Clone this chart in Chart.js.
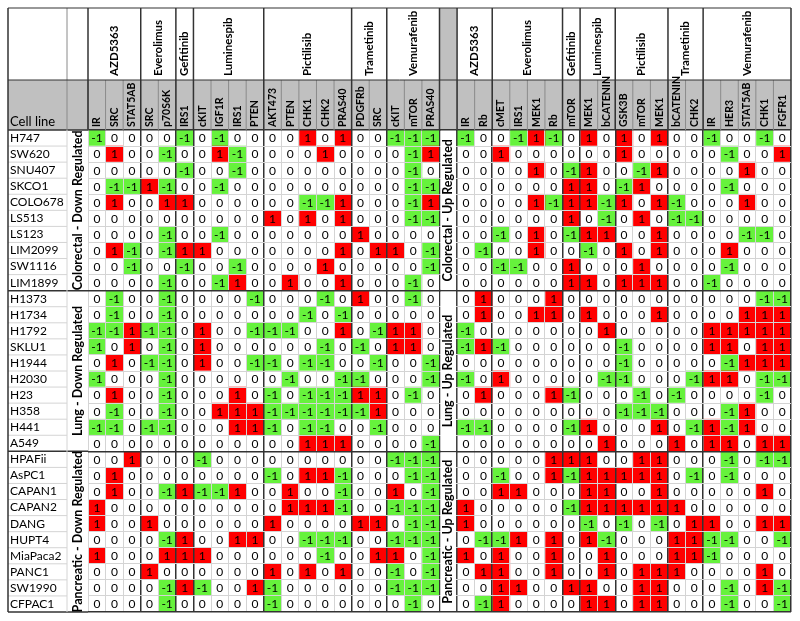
<!DOCTYPE html>
<html>
<head>
<meta charset="utf-8">
<script src="https://cdn.jsdelivr.net/npm/chart.js@4.4.0/dist/chart.umd.min.js"></script>
<style>
  body { margin: 0; background: #fff; }
  #wrap { width: 800px; height: 621px; }
</style>
</head>
<body>
<div id="wrap"><canvas id="myChart"></canvas></div>
<script>
// ---- data ---------------------------------------------------------------
const tissues = ['Colorectal', 'Lung', 'Pancreatic'];
const colorectalLines = ['H747','SW620','SNU407','SKCO1','COLO678','LS513','LS123','LIM2099','SW1116','LIM1899'];
const lungLines = ['H1373','H1734','H1792','SKLU1','H1944','H2030','H23','H358','H441','A549'];
const pancreaticLines = ['HPAFii','AsPC1','CAPAN1','CAPAN2','DANG','HUPT4','MiaPaca2','PANC1','SW1990','CFPAC1'];

const drugs = ['AZD5363','Everolimus','Gefitinib','Luminespib','Pictilisib','Trametinib','Vemurafenib'];
// down regulated markers per drug
const downGenes = [['IR','SRC','STAT5AB'],['SRC','p70S6K'],['IRS1'],['cKIT','IGF1R','IRS1','PTEN'],
                   ['AKT473','PTEN','CHK1','CHK2','PRAS40'],['PDGFRb','SRC'],['cKIT','mTOR','PRAS40']];
// up regulated markers per drug
const upGenes = [['IR','Rb'],['cMET','IRS1','MEK1','Rb'],['mTOR'],['MEK1','bCATENIN'],
                 ['GSK3B','mTOR','MEK1'],['bCATENIN','CHK2'],['IR','HER3','STAT5AB','CHK1','FGFR1']];

const colorectalDown = [
  [-1,0,0,0,0,-1,0,-1,0,0,0,0,1,0,1,0,0,-1,-1,-1],
  [0,1,0,0,-1,0,0,1,-1,0,0,0,0,1,0,0,0,0,-1,1],
  [0,0,0,0,0,-1,0,0,-1,0,0,0,0,0,0,0,0,0,-1,0],
  [0,-1,-1,1,-1,0,0,-1,0,0,0,0,0,0,0,0,0,0,-1,-1],
  [0,1,0,0,1,1,0,0,0,0,0,0,-1,-1,1,0,0,0,-1,1],
  [0,0,0,0,0,0,0,0,0,0,1,0,1,0,1,0,0,0,-1,-1],
  [0,0,0,0,-1,0,0,-1,0,0,0,0,0,0,0,1,0,0,0,0],
  [0,1,-1,0,-1,1,1,0,0,0,0,0,0,0,1,0,1,1,0,-1],
  [0,0,-1,0,0,-1,0,0,-1,0,0,0,0,1,0,0,0,0,0,-1],
  [0,0,0,0,-1,0,0,-1,1,0,0,1,0,0,1,0,0,0,-1,0]
];
const colorectalUp = [
  [-1,0,0,-1,1,-1,0,1,0,1,0,1,0,0,-1,0,0,-1,0],
  [0,0,1,0,0,0,0,0,0,1,0,0,0,0,0,-1,0,0,1],
  [0,0,0,0,1,0,-1,1,0,0,-1,1,0,0,0,0,1,0,0],
  [0,0,0,0,0,0,1,1,0,-1,1,0,0,0,0,-1,0,0,0],
  [0,0,0,0,1,-1,1,1,-1,1,0,1,-1,0,0,0,1,0,0],
  [0,0,0,0,0,0,1,0,-1,0,1,0,-1,-1,0,0,0,0,0],
  [0,0,-1,0,1,0,-1,1,1,0,0,1,0,0,0,0,-1,-1,0],
  [0,-1,0,0,1,0,0,-1,0,1,0,1,0,0,0,1,0,0,0],
  [0,0,-1,-1,0,0,1,0,0,0,1,0,0,0,0,-1,0,0,0],
  [0,0,0,0,0,0,1,1,0,1,1,1,0,0,-1,0,0,0,0]
];
const lungDown = [
  [0,-1,0,0,-1,0,0,0,0,-1,0,0,0,-1,0,1,0,0,-1,0],
  [0,-1,0,0,-1,0,0,0,0,0,0,0,-1,0,-1,0,0,0,0,0],
  [-1,-1,1,-1,-1,0,1,0,0,-1,-1,-1,0,0,1,0,-1,1,1,0],
  [-1,0,1,0,-1,0,1,0,0,0,0,0,0,-1,0,-1,0,1,1,0],
  [0,1,0,-1,-1,0,1,0,0,-1,-1,0,-1,-1,0,0,-1,0,0,-1],
  [-1,0,0,0,-1,0,0,0,0,0,0,-1,0,0,-1,-1,0,0,0,-1],
  [0,1,0,0,-1,0,0,0,1,0,-1,0,-1,-1,-1,1,1,0,-1,0],
  [0,-1,0,0,-1,0,0,1,1,1,-1,-1,-1,-1,-1,-1,1,0,0,0],
  [-1,-1,0,-1,-1,0,0,0,1,1,-1,0,-1,-1,0,0,-1,0,0,0],
  [0,0,0,0,0,0,0,0,0,0,0,0,1,1,1,0,0,0,0,-1]
];
const lungUp = [
  [0,1,0,0,0,1,0,0,0,0,0,0,0,0,0,0,0,-1,-1],
  [0,1,0,0,1,1,0,1,0,0,0,1,0,0,0,0,1,1,1],
  [-1,0,0,0,0,0,0,0,1,0,0,0,0,0,1,1,1,1,1],
  [-1,1,-1,0,0,0,0,0,0,-1,0,0,0,0,1,1,0,1,1],
  [0,0,0,0,0,0,0,0,0,-1,0,0,0,0,0,-1,1,1,1],
  [-1,0,1,0,0,0,0,0,-1,-1,0,0,0,-1,1,1,0,-1,-1],
  [0,1,0,0,0,1,-1,0,0,0,-1,0,-1,0,0,0,0,-1,0],
  [0,0,0,0,0,0,0,0,0,-1,-1,-1,0,0,0,-1,1,0,0],
  [-1,-1,0,0,0,0,-1,1,0,0,0,1,0,-1,1,-1,1,0,0],
  [0,0,0,0,0,0,0,0,1,0,0,0,1,0,1,1,0,1,1]
];
const pancreaticDown = [
  [0,0,1,0,0,0,-1,0,0,0,0,0,0,0,0,0,0,-1,-1,-1],
  [0,1,0,0,0,0,0,0,0,0,-1,0,1,1,-1,0,0,0,-1,-1],
  [0,1,0,0,-1,1,-1,-1,1,0,0,1,0,0,-1,0,0,1,0,-1],
  [1,0,0,0,0,0,0,0,0,0,0,1,1,1,-1,0,0,-1,-1,-1],
  [1,0,0,1,0,0,0,0,0,0,1,0,0,0,0,1,1,0,-1,-1],
  [0,0,0,0,-1,1,0,0,1,1,0,0,-1,-1,-1,0,0,-1,-1,-1],
  [1,0,0,0,1,1,1,0,0,0,0,0,0,-1,0,0,1,1,0,-1],
  [0,0,0,1,0,0,0,0,0,0,1,0,1,0,1,0,0,-1,0,-1],
  [0,0,0,0,-1,1,-1,0,0,1,-1,0,0,0,0,0,0,-1,-1,-1],
  [0,0,0,0,-1,0,0,0,0,0,-1,0,0,0,0,0,0,0,-1,0]
];
const pancreaticUp = [
  [0,0,0,0,0,1,1,1,0,0,1,1,0,0,0,-1,0,-1,-1],
  [0,0,-1,0,0,1,-1,1,1,1,1,1,0,-1,0,-1,0,0,0],
  [0,0,1,1,0,0,0,1,1,0,0,1,0,0,0,0,0,1,0],
  [1,0,0,0,0,0,-1,1,1,1,1,1,1,0,0,0,0,0,0],
  [1,0,0,0,0,0,0,-1,0,-1,0,-1,0,1,1,0,0,1,1],
  [0,-1,-1,1,0,1,0,1,-1,0,0,0,1,1,-1,-1,0,0,-1],
  [1,0,1,0,0,1,0,0,1,0,0,0,1,1,-1,0,0,0,0],
  [0,1,1,0,0,1,0,0,1,0,1,1,1,0,0,0,0,1,0],
  [0,0,1,1,0,0,1,1,0,0,1,1,0,0,0,-1,0,1,-1],
  [0,-1,1,0,0,0,0,1,1,0,1,1,0,0,0,-1,0,0,-1]
];

// ---- build -------------------------------------------------------------
const RED = '#ff0000', GREEN = '#66f23c', GRAY = '#c0c0c0';
const LIGHT = '#d4d4d4', DARK = '#333333';
const FONT = "Lato, 'Noto Sans', sans-serif";

const cellLines = colorectalLines.concat(lungLines, pancreaticLines);
const downValues = colorectalDown.concat(lungDown, pancreaticDown);
const upValues = colorectalUp.concat(lungUp, pancreaticUp);
const downCols = downGenes.flat();
const upCols = upGenes.flat();
const divCol = downCols.length;            // gray divider column index
const nCols = downCols.length + 1 + upCols.length;
const colLabels = downCols.concat([''], upCols);

// group edges (in column units)
const downEdges = [0], upEdges = [divCol + 1];
downGenes.forEach(g => downEdges.push(downEdges[downEdges.length - 1] + g.length));
upGenes.forEach(g => upEdges.push(upEdges[upEdges.length - 1] + g.length));
const allEdges = downEdges.concat(upEdges);
const darkEdges = allEdges.filter(v => v !== 0);

function cellColor(v) { return v === 1 ? RED : v === -1 ? GREEN : '#ffffff'; }

const datasets = [];
downCols.forEach((g, c) => {
  const vals = downValues.map(r => r[c]);
  datasets.push({ label: g, vals: vals, data: vals.map(() => [c, c + 1]), backgroundColor: vals.map(cellColor) });
});
upCols.forEach((g, c) => {
  const x = divCol + 1 + c;
  const vals = upValues.map(r => r[c]);
  datasets.push({ label: g, vals: vals, data: vals.map(() => [x, x + 1]), backgroundColor: vals.map(cellColor) });
});

// ---- plugin: header boxes, labels, values --------------------------------
const tablePlugin = {
  id: 'tablePlugin',
  beforeDraw(chart) {
    const ctx = chart.ctx, xs = chart.scales.x, ca = chart.chartArea;
    ctx.save();
    ctx.fillStyle = GRAY;
    ctx.fillRect(8, 80, ca.right - 8, ca.top - 80);
    ctx.fillRect(xs.getPixelForValue(divCol), 8, xs.getPixelForValue(divCol + 1) - xs.getPixelForValue(divCol), ca.top - 8);
    ctx.restore();
  },
  afterDraw(chart) {
    const ctx = chart.ctx, xs = chart.scales.x, xt = chart.scales.xTop, ys = chart.scales.y, ca = chart.chartArea;
    const X = v => xs.getPixelForValue(v);
    const rowH = (ys.bottom - ys.top) / cellLines.length;
    const rowTop = i => ys.getPixelForTick(i) - rowH / 2;
    const nameRight = ca.left - 21;
    const line = (x1, y1, x2, y2, color, w) => {
      ctx.beginPath(); ctx.strokeStyle = color; ctx.lineWidth = w;
      ctx.moveTo(x1, y1); ctx.lineTo(x2, y2); ctx.stroke();
    };
    ctx.save();

    // divider column: merged cells in the data area
    ctx.fillStyle = '#ffffff';
    tissues.forEach((t, k) => {
      ctx.fillRect(X(divCol) + 1, rowTop(k * 10) + 1, X(divCol + 1) - X(divCol) - 2, rowH * 10 - 2);
    });

    // name column row lines
    for (let i = 1; i < cellLines.length; i++) {
      if (i % 10 !== 0) line(8, rowTop(i), nameRight, rowTop(i), LIGHT, 1);
    }
    for (let k = 0; k <= tissues.length; k++) {
      const y = k < tissues.length ? rowTop(k * 10) : ys.bottom;
      line(8, y, ca.left, y, DARK, 1.5);
    }
    line(nameRight, ca.top, nameRight, ca.bottom, LIGHT, 1);

    // header grid
    for (let c = 0; c < nCols; c++) line(X(c), 80, X(c), ca.top, '#8a8a8a', 1);
    line(nameRight, 8, nameRight, ca.top, '#8a8a8a', 1);
    line(ca.left, 80, ca.left, ca.top, '#8a8a8a', 1);
    allEdges.forEach(v => line(X(v), 8, X(v), ca.top, DARK, 1.5));
    line(8, 8, ca.right, 8, DARK, 1.2);
    line(8, 80, ca.right, 80, DARK, 1);
    line(8, 8, 8, ca.bottom, DARK, 1.5);

    // drug names in the first header row
    ctx.fillStyle = '#000';
    ctx.font = 'bold 11.5px ' + FONT;
    ctx.textAlign = 'left'; ctx.textBaseline = 'middle';
    [downEdges, upEdges].forEach(edges => {
      drugs.forEach((d, i) => {
        const cx = (X(edges[i]) + X(edges[i + 1])) / 2;
        ctx.save(); ctx.translate(cx, 76); ctx.rotate(-Math.PI / 2);
        ctx.fillText(d, 0, 0); ctx.restore();
      });
    });

    // marker names in the gray header row, placed on the top axis ticks
    ctx.font = 'bold 10.5px ' + FONT;
    colLabels.forEach((l, c) => {
      if (!l) return;
      ctx.save(); ctx.translate(xt.getPixelForTick(c), ca.top - 3); ctx.rotate(-Math.PI / 2);
      ctx.fillText(l, 0, 0); ctx.restore();
    });

    ctx.font = '13px ' + FONT;
    ctx.textBaseline = 'alphabetic';
    ctx.fillText('Cell line', 10, 126);

    // tissue labels
    ctx.font = 'bold 12.5px ' + FONT;
    ctx.textAlign = 'center'; ctx.textBaseline = 'middle';
    tissues.forEach((t, k) => {
      const cy = rowTop(k * 10) + rowH * 5;
      [[(nameRight + ca.left) / 2, t + ' - Down Regulated'], [X(divCol + 0.5), t + ' - Up Regulated']].forEach(([cx, txt]) => {
        ctx.save(); ctx.translate(cx, cy); ctx.rotate(-Math.PI / 2);
        ctx.fillText(txt, 0, 0); ctx.restore();
      });
    });

    // cell values
    ctx.font = '12px ' + FONT;
    chart.data.datasets.forEach((ds, di) => {
      chart.getDatasetMeta(di).data.forEach((el, i) => {
        const p = el.getProps(['x', 'base', 'y'], true);
        ctx.fillText(String(ds.vals[i]), (p.x + p.base) / 2, p.y + 0.5);
      });
    });
    ctx.restore();
  }
};

Chart.defaults.font.family = FONT;

new Chart(document.getElementById('myChart'), {
  type: 'bar',
  data: { labels: cellLines, datasets: datasets },
  options: {
    indexAxis: 'y',
    responsive: true,
    maintainAspectRatio: false,
    animation: false,
    datasets: { bar: { grouped: false, barPercentage: 1, categoryPercentage: 1, borderWidth: 0 } },
    layout: { padding: { left: 10, right: 9, top: 80, bottom: 9 } },
    plugins: { legend: { display: false }, tooltip: { enabled: false } },
    scales: {
      x: {
        type: 'linear', min: 0, max: nCols, position: 'bottom',
        afterBuildTicks: s => { s.ticks = colLabels.map((l, i) => ({ value: i })).concat([{ value: nCols }]); },
        afterFit: s => { s.height = 0; },
        ticks: { display: false },
        border: { display: false },
        grid: {
          z: 1, drawTicks: false,
          color: c => darkEdges.includes(c.tick.value) ? DARK : LIGHT,
          lineWidth: c => darkEdges.includes(c.tick.value) ? 1.5 : 1
        }
      },
      xTop: {
        type: 'category', labels: colLabels, position: 'top', offset: true,
        afterFit: s => { s.height = 50; },
        grid: { display: false }, border: { display: false },
        ticks: { display: false, autoSkip: false }
      },
      y: {
        type: 'category', position: 'left', offset: true,
        afterFit: s => { s.width = 78; },
        border: { display: false },
        ticks: { autoSkip: false, crossAlign: 'far', padding: 0, color: '#000', font: { size: 12 } },
        grid: {
          z: 1, drawTicks: false, offset: true,
          color: c => (c.index === undefined || c.index % 10 === 0) ? DARK : LIGHT,
          lineWidth: c => (c.index === undefined || c.index % 10 === 0) ? 1.5 : 1
        }
      }
    }
  },
  plugins: [tablePlugin]
});
</script>
</body>
</html>
